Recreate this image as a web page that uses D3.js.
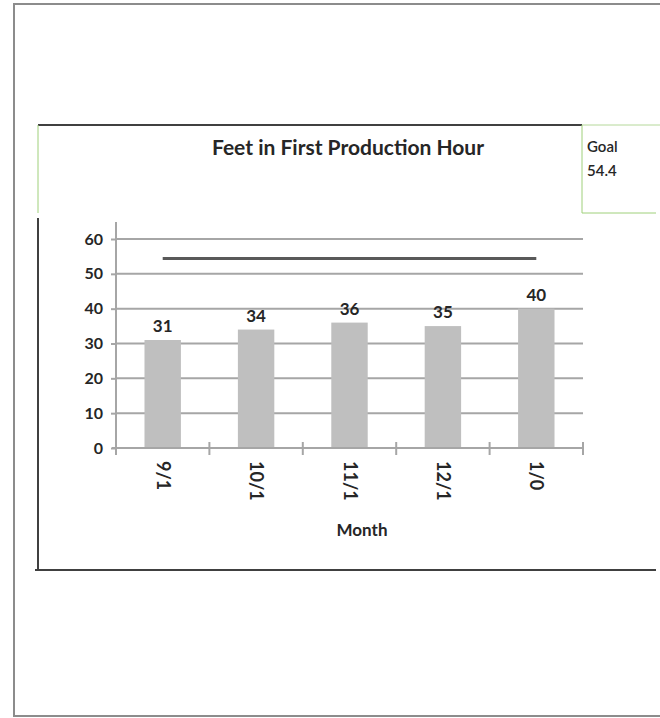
<!DOCTYPE html>
<html>
<head>
<meta charset="utf-8">
<script src="https://cdn.jsdelivr.net/npm/d3@7"></script>
<style>
  body { margin: 0; background: #fff; }
  text { font-family: Lato, "Open Sans", sans-serif; fill: #262626; }
</style>
</head>
<body>
<div id="chart"></div>
<script>
const months = ["9/1", "10/1", "11/1", "12/1", "1/0"];
const feet = [31, 34, 36, 35, 40];
const goal = 54.4;
const yTicks = [0, 10, 20, 30, 40, 50, 60];

const svgWidth = 660;
const svgHeight = 718;

const svg = d3.select("#chart")
    .append("svg")
    .attr("width", svgWidth)
    .attr("height", svgHeight);

// outer page frame
svg.append("rect")
    .attr("x", 14).attr("y", 4)
    .attr("width", 660).attr("height", 712)
    .attr("fill", "none")
    .attr("stroke", "#8c8c8c")
    .attr("stroke-width", 2);

// chart frame lines
svg.append("line")
    .attr("x1", 38).attr("x2", 582).attr("y1", 125).attr("y2", 125)
    .attr("stroke", "#404040").attr("stroke-width", 2);
svg.append("line")
    .attr("x1", 582).attr("x2", 660).attr("y1", 125).attr("y2", 125)
    .attr("stroke", "#b5d89a").attr("stroke-width", 1);
svg.append("line")
    .attr("x1", 38).attr("x2", 38).attr("y1", 125).attr("y2", 213)
    .attr("stroke", "#9fd07a").attr("stroke-width", 1);
svg.append("line")
    .attr("x1", 38).attr("x2", 38).attr("y1", 218).attr("y2", 571)
    .attr("stroke", "#404040").attr("stroke-width", 2);
svg.append("line")
    .attr("x1", 35).attr("x2", 656).attr("y1", 570).attr("y2", 570)
    .attr("stroke", "#404040").attr("stroke-width", 2);

// goal box
svg.append("line")
    .attr("x1", 582).attr("x2", 582).attr("y1", 125).attr("y2", 213)
    .attr("stroke", "#9fd07a").attr("stroke-width", 1);
svg.append("line")
    .attr("x1", 582).attr("x2", 656).attr("y1", 213).attr("y2", 213)
    .attr("stroke", "#9fd07a").attr("stroke-width", 1);
svg.append("text")
    .attr("x", 587).attr("y", 152)
    .attr("font-size", 15)
    .attr("font-weight", 600)
    .text("Goal");
svg.append("text")
    .attr("x", 587).attr("y", 176)
    .attr("font-size", 15)
    .attr("font-weight", 600)
    .text(goal);

// title
svg.append("text")
    .attr("x", 348).attr("y", 155)
    .attr("text-anchor", "middle")
    .attr("font-size", 21)
    .attr("font-weight", "bold")
    .text("Feet in First Production Hour");

const xBand = d3.scaleBand()
    .domain(months)
    .range([116, 583])
    .paddingInner(0.61)
    .paddingOuter(0.305);

const yLinear = d3.scaleLinear()
    .domain([0, 60])
    .range([448, 239]);

// gridlines
svg.append("g")
    .selectAll("line")
    .data(yTicks.filter(d => d > 0))
    .enter()
    .append("line")
    .attr("x1", 116).attr("x2", 583)
    .attr("y1", d => yLinear(d)).attr("y2", d => yLinear(d))
    .attr("stroke", "#a6a6a6")
    .attr("stroke-width", 2);

// y axis
const leftSide = d3.axisLeft(yLinear).tickValues(yTicks).tickSize(5).tickPadding(8);
const yAxis = svg.append("g")
    .attr("transform", "translate(116, 0)")
    .call(leftSide);
yAxis.select(".domain").remove();
yAxis.selectAll("line").attr("stroke", "#a6a6a6").attr("stroke-width", 2);
yAxis.selectAll("text")
    .attr("font-size", 16)
    .attr("font-weight", "bold")
    .attr("fill", "#333")
    .style("font-family", "Lato, sans-serif");
svg.append("line")
    .attr("x1", 116).attr("x2", 116).attr("y1", 222).attr("y2", 449)
    .attr("stroke", "#a6a6a6").attr("stroke-width", 2);

// bars
const pointsGroup = svg.selectAll("g.bar")
    .data(months.map((m, i) => ({ month: m, value: feet[i] })))
    .enter()
    .append("g")
    .classed("bar", true);

pointsGroup.append("rect")
    .attr("x", d => xBand(d.month))
    .attr("y", d => yLinear(d.value))
    .attr("width", xBand.bandwidth())
    .attr("height", d => yLinear(0) - yLinear(d.value))
    .attr("fill", "#bfbfbf");

pointsGroup.append("text")
    .attr("x", d => xBand(d.month) + xBand.bandwidth() / 2)
    .attr("y", d => yLinear(d.value) - 8)
    .attr("text-anchor", "middle")
    .attr("font-size", 17)
    .attr("font-weight", "bold")
    .text(d => d.value);

// x axis
svg.append("line")
    .attr("x1", 112).attr("x2", 583).attr("y1", 448).attr("y2", 448)
    .attr("stroke", "#a6a6a6").attr("stroke-width", 2);
const step = xBand.step();
svg.append("g")
    .selectAll("line")
    .data(d3.range(months.length + 1))
    .enter()
    .append("line")
    .attr("x1", i => 116 + i * step).attr("x2", i => 116 + i * step)
    .attr("y1", 442).attr("y2", 455)
    .attr("stroke", "#a6a6a6").attr("stroke-width", 2);

svg.append("g")
    .selectAll("text")
    .data(months)
    .enter()
    .append("text")
    .attr("transform", d => `translate(${xBand(d) + xBand.bandwidth() / 2 - 6}, 461) rotate(90)`)
    .attr("font-size", 18)
    .attr("font-weight", "bold")
    .text(d => d);

// goal line
svg.append("line")
    .attr("x1", xBand(months[0]) + xBand.bandwidth() / 2)
    .attr("x2", xBand(months[months.length - 1]) + xBand.bandwidth() / 2)
    .attr("y1", yLinear(goal)).attr("y2", yLinear(goal))
    .attr("stroke", "#595959")
    .attr("stroke-width", 3);

svg.append("text")
    .attr("x", 362).attr("y", 536)
    .attr("text-anchor", "middle")
    .attr("font-size", 17)
    .attr("font-weight", "bold")
    .text("Month");
</script>
</body>
</html>
